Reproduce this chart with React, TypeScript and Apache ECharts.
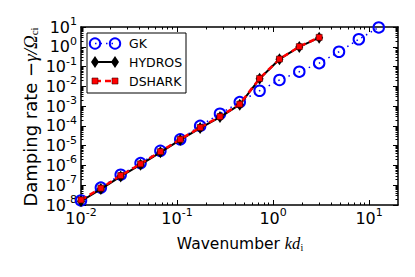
import React, { useEffect, useRef } from 'react';
import * as echarts from 'echarts';

// Wavenumber k d_i (shared sampling)
const kd = [0.01, 0.0161, 0.0259, 0.0417, 0.0671, 0.108, 0.174, 0.28, 0.45, 0.724, 1.166, 1.876, 3.02, 4.86, 7.82, 12.6];
// Damping rate -gamma/Omega_ci
const gk = [1.7e-8, 7.6e-8, 3.4e-7, 1.32e-6, 5.5e-6, 2.1e-5, 1.0e-4, 4.1e-4, 1.6e-3, 6.0e-3, 2.1e-2, 5.5e-2, 0.148, 0.56, 2.4, 9.5];
const hydros = [1.55e-8, 6.4e-8, 2.8e-7, 1.1e-6, 4.6e-6, 1.95e-5, 7.8e-5, 2.8e-4, 1.18e-3, 2.4e-2, 0.235, 0.98, 2.9];
const dshark = [1.8e-8, 7.1e-8, 3.1e-7, 1.2e-6, 5.0e-6, 2.1e-5, 8.3e-5, 2.95e-4, 1.26e-3, 2.5e-2, 0.24, 1.02, 3.0];

const xTickLabels = [0.01, 0.1, 1, 10];
const yTickLabels = [1e-8, 1e-7, 1e-6, 1e-5, 1e-4, 1e-3, 1e-2, 1e-1, 1, 10];

const X_MIN = 0.01, X_MAX = 20, Y_MIN = 1e-8, Y_MAX = 10;

function minorTicks(lo: number, hi: number): number[] {
  const out: number[] = [];
  for (let e = Math.floor(Math.log10(lo)); e <= Math.ceil(Math.log10(hi)); e++) {
    for (let m = 2; m <= 9; m++) {
      const v = Number((m * Math.pow(10, e)).toPrecision(6));
      if (v > lo && v < hi) out.push(v);
    }
  }
  return out;
}

const FONT = "'DejaVu Sans', sans-serif";
const MATH = "'Liberation Serif', serif";

const rich = {
  b: { fontSize: 16, lineHeight: 16, fontFamily: FONT, color: '#000', verticalAlign: 'bottom' },
  s: { fontSize: 11, lineHeight: 11, fontFamily: FONT, color: '#000', padding: [0, 0, 8, 0], verticalAlign: 'bottom' },
};

function powLabel(v: number) {
  const e = Math.round(Math.log10(v));
  const es = e < 0 ? '-' + -e : String(e);
  return '{b|10}{s|' + es + '}';
}

function makeX(position: string, major: boolean, showLabel: boolean) {
  return {
    type: 'log',
    logBase: 10,
    min: X_MIN,
    max: X_MAX,
    position,
    axisLine: { show: major, onZero: false, lineStyle: { color: '#000', width: 1.5 } },
    axisTick: {
      show: true,
      inside: true,
      length: major ? 5 : 2.5,
      customValues: major ? xTickLabels : minorTicks(X_MIN, X_MAX),
      lineStyle: { color: '#000', width: 1 },
    },
    axisLabel: showLabel
      ? { show: true, customValues: xTickLabels, formatter: powLabel, rich, margin: 5, showMinLabel: true, showMaxLabel: true, hideOverlap: false }
      : { show: false },
    splitLine: { show: false },
    minorTick: { show: false },
  };
}

function makeY(position: string, major: boolean, showLabel: boolean) {
  return {
    type: 'log',
    logBase: 10,
    min: Y_MIN,
    max: Y_MAX,
    position,
    axisLine: { show: major, onZero: false, lineStyle: { color: '#000', width: 1.5 } },
    axisTick: {
      show: true,
      inside: true,
      length: major ? 5 : 2.5,
      customValues: major ? yTickLabels : minorTicks(Y_MIN, Y_MAX),
      lineStyle: { color: '#000', width: 1 },
    },
    axisLabel: showLabel
      ? { show: true, customValues: yTickLabels, formatter: powLabel, rich, margin: 4, showMinLabel: true, showMaxLabel: true, hideOverlap: false }
      : { show: false },
    splitLine: { show: false },
    minorTick: { show: false },
  };
}

export default function App() {
  const ref = useRef<HTMLDivElement>(null);
  useEffect(() => {
    if (!ref.current) return;
    const chart = echarts.init(ref.current, undefined, { renderer: 'svg' });
    const gkData = kd.map((x, i) => [x, gk[i]]);
    const hyData = hydros.map((y, i) => [kd[i], y]);
    const dsData = dshark.map((y, i) => [kd[i], y]);

    const legendX = 87, legendY = 33;
    const option: any = {
      animation: false,
      backgroundColor: '#fff',
      grid: { left: 81, top: 27, width: 317, height: 178, containLabel: false },
      xAxis: [makeX('bottom', true, true), makeX('bottom', false, false), makeX('top', true, false), makeX('top', false, false)],
      yAxis: [makeY('left', true, true), makeY('left', false, false), makeY('right', true, false), makeY('right', false, false)],
      series: [
        {
          name: 'GK',
          type: 'line',
          data: gkData,
          symbol: 'circle',
          symbolSize: 10.5,
          itemStyle: { color: 'rgba(0,0,0,0)', borderColor: '#0000ff', borderWidth: 2 },
          lineStyle: { color: '#0000ff', width: 1.5, type: [1.5, 4] },
          z: 2,
        },
        {
          name: 'HYDROS',
          type: 'line',
          data: hyData,
          symbol: 'diamond',
          symbolSize: [8, 12],
          itemStyle: { color: '#000' },
          lineStyle: { color: '#000', width: 2 },
          z: 3,
        },
        {
          name: 'DSHARK',
          type: 'line',
          data: dsData,
          symbol: 'rect',
          symbolSize: 6,
          itemStyle: { color: '#ff0000', borderColor: '#400000', borderWidth: 0.6 },
          lineStyle: { color: '#ff0000', width: 2.5, type: [6, 4] },
          z: 4,
        },
      ],
      graphic: [
        {
          type: 'rect',
          shape: { x: legendX, y: legendY, width: 99, height: 60 },
          style: { fill: '#fff', stroke: '#000', lineWidth: 1 },
          z: 100,
        },
        // GK entry
        { type: 'line', shape: { x1: 95, y1: 43.5, x2: 115, y2: 43.5 }, style: { stroke: '#0000ff', lineWidth: 1.5, lineDash: [1.5, 4] }, z: 101 },
        { type: 'circle', shape: { cx: 95, cy: 43.5, r: 5.2 }, style: { fill: 'none', stroke: '#0000ff', lineWidth: 2 }, z: 102 },
        { type: 'circle', shape: { cx: 115, cy: 43.5, r: 5.2 }, style: { fill: 'none', stroke: '#0000ff', lineWidth: 2 }, z: 102 },
        { type: 'text', x: 129, y: 43.5, style: { text: 'GK', font: '12.5px ' + FONT, fill: '#000', textVerticalAlign: 'middle' }, z: 102 },
        // HYDROS entry
        { type: 'line', shape: { x1: 95, y1: 62, x2: 115, y2: 62 }, style: { stroke: '#000', lineWidth: 2 }, z: 101 },
        { type: 'polygon', shape: { points: [[95, 56], [99, 62], [95, 68], [91, 62]] }, style: { fill: '#000' }, z: 102 },
        { type: 'polygon', shape: { points: [[115, 56], [119, 62], [115, 68], [111, 62]] }, style: { fill: '#000' }, z: 102 },
        { type: 'text', x: 129, y: 62, style: { text: 'HYDROS', font: '12.5px ' + FONT, fill: '#000', textVerticalAlign: 'middle' }, z: 102 },
        // DSHARK entry
        { type: 'line', shape: { x1: 95, y1: 81, x2: 115, y2: 81 }, style: { stroke: '#ff0000', lineWidth: 2.5, lineDash: [6, 4] }, z: 101 },
        { type: 'rect', shape: { x: 92, y: 78, width: 6, height: 6 }, style: { fill: '#ff0000', stroke: '#400000', lineWidth: 0.6 }, z: 102 },
        { type: 'rect', shape: { x: 112, y: 78, width: 6, height: 6 }, style: { fill: '#ff0000', stroke: '#400000', lineWidth: 0.6 }, z: 102 },
        { type: 'text', x: 129, y: 81, style: { text: 'DSHARK', font: '12.5px ' + FONT, fill: '#000', textVerticalAlign: 'middle' }, z: 102 },
        // Axis titles
        {
          type: 'text',
          x: 240,
          y: 243,
          style: {
            text: '{n|Wavenumber }{m|kd}{sub|i}',
            textAlign: 'center',
            textVerticalAlign: 'middle',
            rich: {
              n: { fontSize: 15.5, fontFamily: FONT, fill: '#000', verticalAlign: 'bottom', lineHeight: 18 },
              m: { fontSize: 16.5, fontFamily: MATH, fontStyle: 'italic', fill: '#000', verticalAlign: 'bottom', lineHeight: 18 },
              sub: { fontSize: 10, fontFamily: MATH, fill: '#000', verticalAlign: 'bottom', lineHeight: 14 },
            },
          },
        },
        {
          type: 'text',
          x: 29,
          y: 117,
          rotation: Math.PI / 2,
          style: {
            text: '{n|Damping rate }{n|\u2212}{m|\u03b3/\u03a9}{sub|ci}',
            textAlign: 'center',
            textVerticalAlign: 'middle',
            rich: {
              n: { fontSize: 18, fontFamily: FONT, fill: '#000', verticalAlign: 'bottom', lineHeight: 21 },
              m: { fontSize: 19, fontFamily: MATH, fontStyle: 'italic', fill: '#000', verticalAlign: 'bottom', lineHeight: 21 },
              sub: { fontSize: 11, fontFamily: MATH, fill: '#000', verticalAlign: 'bottom', lineHeight: 16 },
            },
          },
        },
      ],
    };
    chart.setOption(option);
    return () => chart.dispose();
  }, []);
  return <div ref={ref} style={{ width: 415, height: 277, position: 'absolute', left: 0, top: 0 }} />;
}
